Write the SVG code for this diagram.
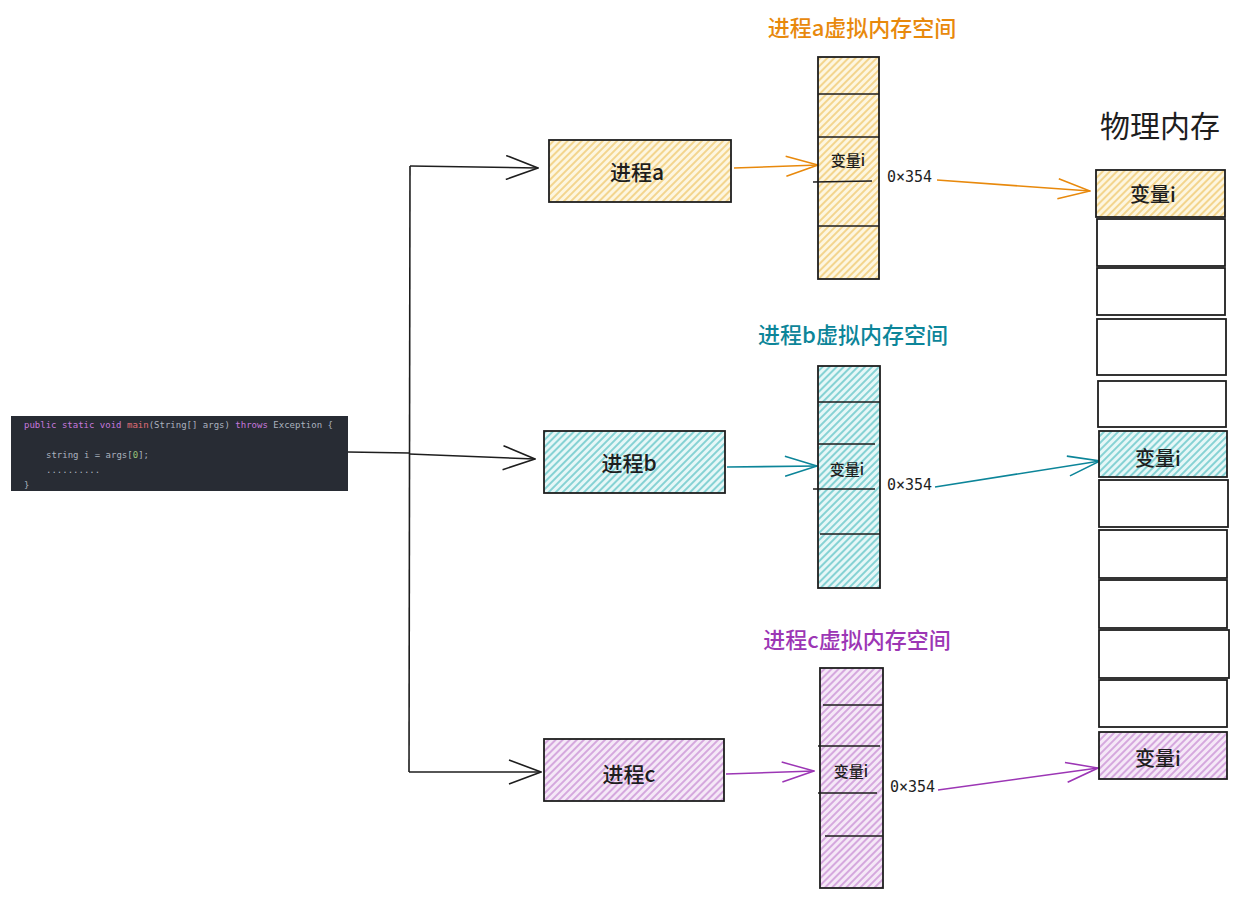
<svg xmlns="http://www.w3.org/2000/svg" width="1240" height="900" viewBox="0 0 1240 900">
<defs>
<pattern id="hy" width="5" height="5" patternUnits="userSpaceOnUse" patternTransform="rotate(45)"><rect width="5" height="5" fill="#fdf6e0"/><line x1="1" y1="0" x2="1" y2="5" stroke="#efc462" stroke-width="1.3"/></pattern>
<pattern id="hb" width="5" height="5" patternUnits="userSpaceOnUse" patternTransform="rotate(45)"><rect width="5" height="5" fill="#e6f7f7"/><line x1="1" y1="0" x2="1" y2="5" stroke="#52bfc2" stroke-width="1.3"/></pattern>
<pattern id="hp" width="5" height="5" patternUnits="userSpaceOnUse" patternTransform="rotate(45)"><rect width="5" height="5" fill="#f5e8f7"/><line x1="1" y1="0" x2="1" y2="5" stroke="#c486d1" stroke-width="1.3"/></pattern>
<marker id="ak" viewBox="0 0 34 26" refX="33" refY="13" markerWidth="34" markerHeight="26" markerUnits="userSpaceOnUse" orient="auto"><path d="M1,1 L33,13 L1,25" fill="none" stroke="#1e1e1e" stroke-width="1.6"/></marker>
<marker id="ao" viewBox="0 0 34 26" refX="33" refY="13" markerWidth="34" markerHeight="26" markerUnits="userSpaceOnUse" orient="auto"><path d="M1,3 L33,13 L1,23" fill="none" stroke="#e8890c" stroke-width="1.6"/></marker>
<marker id="at" viewBox="0 0 34 26" refX="33" refY="13" markerWidth="34" markerHeight="26" markerUnits="userSpaceOnUse" orient="auto"><path d="M1,3 L33,13 L1,23" fill="none" stroke="#0c8599" stroke-width="1.6"/></marker>
<marker id="ap" viewBox="0 0 34 26" refX="33" refY="13" markerWidth="34" markerHeight="26" markerUnits="userSpaceOnUse" orient="auto"><path d="M1,3 L33,13 L1,23" fill="none" stroke="#9c36b5" stroke-width="1.6"/></marker>
</defs>
<style>
.bx{stroke:#1e1e1e;stroke-width:1.8}
.ln{stroke:#1e1e1e;stroke-width:1.6;fill:none}
.cj{font-family:"Noto Sans CJK SC","Noto Sans",sans-serif;font-weight:500;text-anchor:middle;dominant-baseline:central;fill:#1e1e1e}
.mono{font-family:"DejaVu Sans Mono","Liberation Mono",monospace;fill:#1e1e1e}
.code{font-family:"DejaVu Sans Mono","Liberation Mono",monospace;font-size:9px;fill:#abb2bf}
.kw{fill:#c678dd}
.fn{fill:#e06c75}
.nm{fill:#98c379}
</style>
<rect width="1240" height="900" fill="#ffffff"/>

<g id="code">
<rect x="11" y="416" width="337" height="75" fill="#282c34"/>
<text class="code" x="24" y="428"><tspan class="kw">public static void</tspan> <tspan class="fn">main</tspan>(String[] args) <tspan class="kw">throws</tspan> Exception {</text>
<text class="code" x="46" y="458">string i = args[<tspan class="nm">0</tspan>];</text>
<text class="code" x="46" y="473">..........</text>
<text class="code" x="24" y="488">}</text>
</g>

<g id="connectors">
<path class="ln" d="M348,452 L409,453"/>
<path class="ln" d="M410,166 L409,772"/>
<path class="ln" d="M410,166 L538,168" marker-end="url(#ak)"/>
<path class="ln" d="M409,454 L535,459" marker-end="url(#ak)"/>
<path class="ln" d="M409,772 L541,772" marker-end="url(#ak)"/>
<path d="M734,168 L818,165" fill="none" stroke="#e8890c" stroke-width="1.6" marker-end="url(#ao)"/>
<path d="M727,467 L817,466" fill="none" stroke="#0c8599" stroke-width="1.6" marker-end="url(#at)"/>
<path d="M726,774 L814,771" fill="none" stroke="#9c36b5" stroke-width="1.6" marker-end="url(#ap)"/>
<path d="M937,180 L1090,191" fill="none" stroke="#e8890c" stroke-width="1.6" marker-end="url(#ao)"/>
<path d="M935,487 L1100,461" fill="none" stroke="#0c8599" stroke-width="1.6" marker-end="url(#at)"/>
<path d="M938,790 L1098,768" fill="none" stroke="#9c36b5" stroke-width="1.6" marker-end="url(#ap)"/>
</g>

<g id="proc-a">
<rect class="bx" x="549" y="140" width="182" height="62" fill="url(#hy)"/>
<text class="cj" x="637" y="171" font-size="21">进程a</text>
</g>
<g id="proc-b">
<rect class="bx" x="544" y="431" width="181" height="62" fill="url(#hb)"/>
<text class="cj" x="629" y="462" font-size="21">进程b</text>
</g>
<g id="proc-c">
<rect class="bx" x="544" y="739" width="180" height="62" fill="url(#hp)"/>
<text class="cj" x="629" y="773" font-size="21">进程c</text>
</g>

<g id="vmem-a">
<text class="cj" x="862" y="26" font-size="22" style="fill:#e8890c">进程a虚拟内存空间</text>
<rect class="bx" x="818" y="57" width="61" height="222" fill="url(#hy)"/>
<path class="ln" d="M818,94 L879,94 M818,137 L879,137 M813,182 L872,181 M818,226 L879,226"/>
<text class="cj" x="848" y="159" font-size="15">变量i</text>
<text class="mono" x="887" y="182" font-size="15">0×354</text>
</g>
<g id="vmem-b">
<text class="cj" x="853" y="333" font-size="22" style="fill:#0c8599">进程b虚拟内存空间</text>
<rect class="bx" x="818" y="366" width="62" height="222" fill="url(#hb)"/>
<path class="ln" d="M818,402 L880,402 M818,444 L875,444 M813,489 L875,489 M820,534 L880,534"/>
<text class="cj" x="847" y="468" font-size="15">变量i</text>
<text class="mono" x="887" y="490" font-size="15">0×354</text>
</g>
<g id="vmem-c">
<text class="cj" x="857" y="638" font-size="22" style="fill:#9c36b5">进程c虚拟内存空间</text>
<rect class="bx" x="820" y="668" width="63" height="220" fill="url(#hp)"/>
<path class="ln" d="M823,705 L883,705 M818,746 L880,746 M818,793 L877,793 M825,836 L883,836"/>
<text class="cj" x="851" y="770" font-size="15">变量i</text>
<text class="mono" x="890" y="792" font-size="15">0×354</text>
</g>

<g id="pmem">
<text class="cj" x="1160" y="124" font-size="30" font-weight="400" style="font-weight:400">物理内存</text>
<rect class="bx" x="1096" y="170" width="129" height="47" fill="url(#hy)"/>
<text class="cj" x="1153" y="193" font-size="20">变量i</text>
<rect class="bx" x="1097" y="219" width="128" height="47" fill="#fff"/>
<rect class="bx" x="1097" y="268" width="128" height="47" fill="#fff"/>
<rect class="bx" x="1097" y="319" width="129" height="56" fill="#fff"/>
<rect class="bx" x="1098" y="381" width="128" height="46" fill="#fff"/>
<rect class="bx" x="1099" y="431" width="128" height="46" fill="url(#hb)"/>
<text class="cj" x="1158" y="457" font-size="20">变量i</text>
<rect class="bx" x="1099" y="480" width="129" height="47" fill="#fff"/>
<rect class="bx" x="1099" y="530" width="128" height="48" fill="#fff"/>
<rect class="bx" x="1099" y="580" width="128" height="48" fill="#fff"/>
<rect class="bx" x="1099" y="630" width="130" height="48" fill="#fff"/>
<rect class="bx" x="1099" y="680" width="128" height="47" fill="#fff"/>
<rect class="bx" x="1099" y="732" width="128" height="47" fill="url(#hp)"/>
<text class="cj" x="1158" y="757" font-size="20">变量i</text>
</g>
</svg>
